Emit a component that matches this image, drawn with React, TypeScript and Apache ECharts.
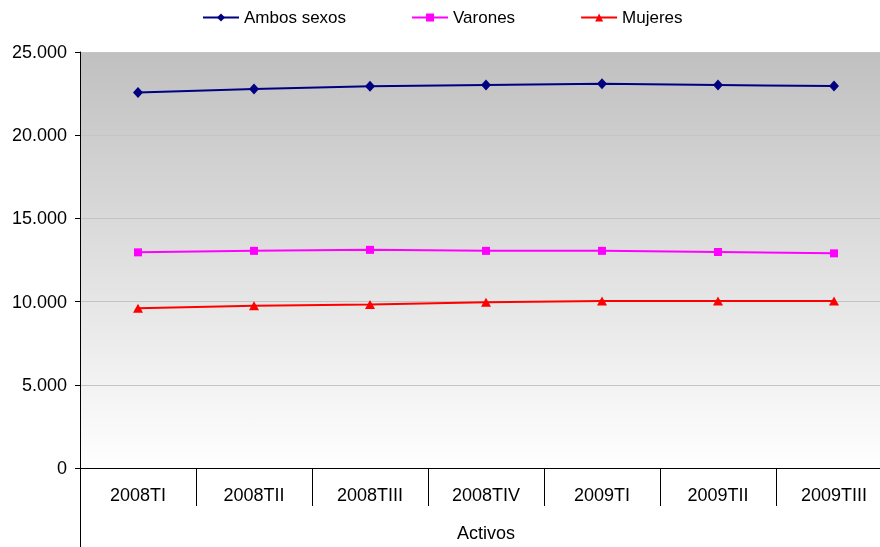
import React, { useEffect, useRef } from "react";
import * as echarts from "echarts";

const categories = ["2008TI", "2008TII", "2008TIII", "2008TIV", "2009TI", "2009TII", "2009TIII"];
const ambosSexos = [22560, 22780, 22940, 23020, 23090, 23020, 22950];
const varones = [12960, 13050, 13110, 13050, 13050, 12980, 12900];
const mujeres = [9600, 9750, 9830, 9960, 10030, 10030, 10040];
const seriesNames = ["Ambos sexos", "Varones", "Mujeres"];
const axisName = "Activos";

const FONT = "'Liberation Sans', Arial, sans-serif";

export default function App() {
  const ref = useRef<HTMLDivElement>(null);
  useEffect(() => {
    if (!ref.current) return;
    const chart = echarts.init(ref.current, undefined, { renderer: "svg" });
    chart.setOption({
      animation: false,
      textStyle: { fontFamily: FONT },
      legend: {
        left: 197,
        top: 4,
        itemWidth: 36,
        itemHeight: 10,
        itemGap: 65,
        textStyle: { fontSize: 17, color: "#000", fontFamily: FONT },
        data: seriesNames,
      },
      grid: {
        left: 80,
        top: 52,
        right: 0,
        height: 420,
        show: true,
        borderWidth: 0,
        backgroundColor: {
          type: "linear",
          x: 0,
          y: 0,
          x2: 0,
          y2: 1,
          colorStops: [
            { offset: 0, color: "#c0c0c0" },
            { offset: 1, color: "#ffffff" },
          ],
        },
      },
      xAxis: {
        type: "category",
        data: categories,
        boundaryGap: true,
        name: axisName,
        nameLocation: "middle",
        nameGap: 56,
        nameTextStyle: { fontSize: 18, color: "#000", fontFamily: FONT },
        axisLine: { lineStyle: { color: "#000", width: 1 } },
        axisTick: { show: true, alignWithLabel: false, length: 38, lineStyle: { color: "#000" } },
        axisLabel: { fontSize: 18, color: "#000", margin: 18, fontFamily: FONT },
        splitLine: { show: false },
      },
      yAxis: {
        type: "value",
        min: 0,
        max: 25000,
        interval: 5000,
        axisLine: { show: true, lineStyle: { color: "#000", width: 1 } },
        axisTick: { show: true, length: 5, lineStyle: { color: "#000" } },
        axisLabel: {
          fontSize: 18,
          color: "#000",
          margin: 13,
          fontFamily: FONT,
          formatter: (v: number) => (v === 0 ? "0" : (v / 1000).toFixed(3)),
        },
        splitLine: { show: true, lineStyle: { color: "#c4c4c4", width: 1 } },
      },
      graphic: [
        {
          type: "line",
          shape: { x1: 80.5, y1: 472, x2: 80.5, y2: 547 },
          style: { stroke: "#000", lineWidth: 1 },
          z: 10,
        },
      ],
      series: [
        {
          name: seriesNames[0],
          type: "line",
          data: ambosSexos,
          symbol: "diamond",
          symbolSize: [10, 11],
          lineStyle: { color: "#000080", width: 2 },
          itemStyle: { color: "#000080" },
        },
        {
          name: seriesNames[1],
          type: "line",
          data: varones,
          symbol: "rect",
          symbolSize: 8,
          lineStyle: { color: "#ff00ff", width: 2 },
          itemStyle: { color: "#ff00ff" },
        },
        {
          name: seriesNames[2],
          type: "line",
          data: mujeres,
          symbol: "triangle",
          symbolSize: [10, 9],
          lineStyle: { color: "#ff0000", width: 2 },
          itemStyle: { color: "#ff0000" },
        },
      ],
    });
    return () => chart.dispose();
  }, []);
  return (
    <div
      style={{ position: "fixed", left: 0, top: 0, width: 880, height: 547, overflow: "hidden" }}
    >
      <div ref={ref} style={{ width: 892, height: 547 }} />
    </div>
  );
}
